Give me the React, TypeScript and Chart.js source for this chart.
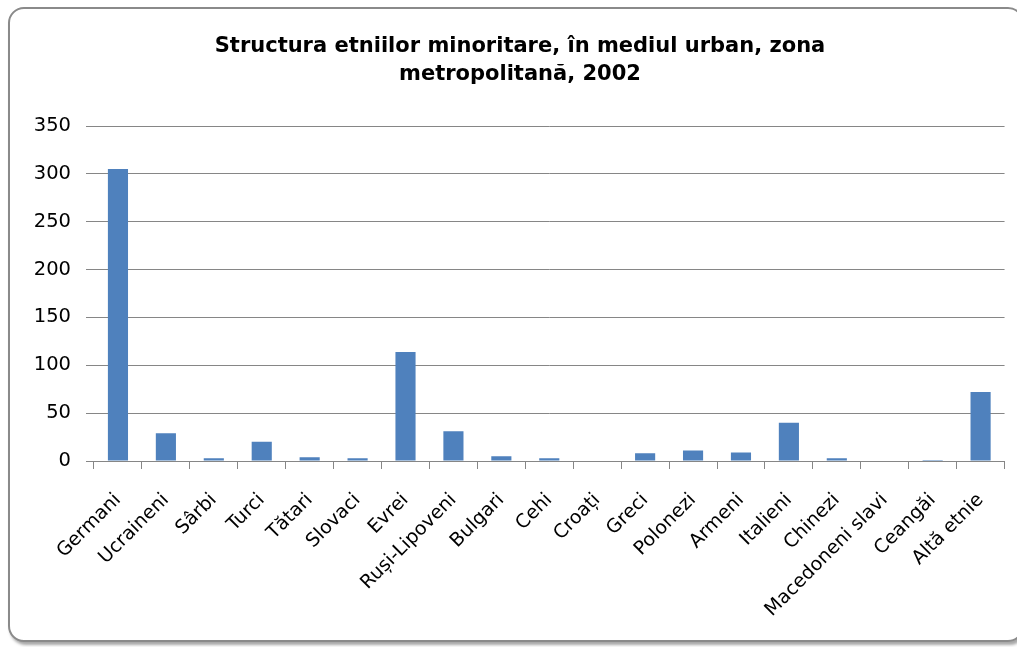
import React, { useEffect, useRef } from "react";
import { Chart, registerables } from "chart.js";

Chart.register(...registerables);

const categories: string[] = [
  "Germani", "Ucraineni", "Sârbi", "Turci", "Tătari", "Slovaci", "Evrei",
  "Ruși-Lipoveni", "Bulgari", "Cehi", "Croați", "Greci", "Polonezi", "Armeni",
  "Italieni", "Chinezi", "Macedoneni slavi", "Ceangăi", "Altă etnie",
];

const values: number[] = [
  305, 29, 3, 20, 4, 3, 114, 31, 5, 3, 0, 8, 11, 9, 40, 3, 0, 1, 72,
];

const yTicks: number[] = [0, 50, 100, 150, 200, 250, 300, 350];

const titleLines: string[] = [
  "Structura etniilor minoritare, în mediul urban, zona",
  "metropolitană, 2002",
];

const titleShift = {
  id: "titleShift",
  afterLayout(chart: any) {
    const t = chart.titleBlock;
    if (t) {
      t.left += 3;
      t.right += 3;
    }
  },
};

export default function App() {
  const ref = useRef<HTMLCanvasElement | null>(null);

  useEffect(() => {
    if (!ref.current) return;
    const chart = new Chart(ref.current, {
      type: "bar",
      data: {
        labels: categories,
        datasets: [
          {
            data: values,
            backgroundColor: "#4F81BD",
            borderWidth: 0,
            categoryPercentage: 1,
            barPercentage: 0.42,
          },
        ],
      },
      plugins: [titleShift],
      options: {
        responsive: false,
        animation: false,
        layout: { padding: { left: 28, right: 11, top: 10, bottom: 10 } },
        plugins: {
          legend: { display: false },
          tooltip: { enabled: false },
          title: {
            display: true,
            text: titleLines,
            color: "#000000",
            font: { family: "DejaVu Sans", size: 21, weight: "bold", lineHeight: 28 / 21 },
            padding: { top: 23, bottom: 37 },
          },
        },
        scales: {
          x: {
            grid: {
              display: true,
              drawOnChartArea: false,
              drawTicks: true,
              tickLength: 8,
              color: "#868686",
              lineWidth: 1,
              offset: true,
            },
            border: { display: true, color: "#868686", width: 1 },
            ticks: {
              autoSkip: false,
              maxRotation: 45,
              minRotation: 45,
              color: "#000000",
              padding: 20,
              font: { family: "DejaVu Sans", size: 19 },
            },
            afterFit: (s: any) => {
              s.height = 176;
            },
          },
          y: {
            min: 0,
            max: 350,
            afterBuildTicks: (s: any) => {
              s.ticks = yTicks.map((v) => ({ value: v }));
            },
            grid: {
              color: "#868686",
              lineWidth: 1,
              drawTicks: true,
              tickLength: 8,
            },
            border: { display: false },
            ticks: {
              color: "#000000",
              padding: 15,
              font: { family: "DejaVu Sans", size: 19.5 },
            },
            afterFit: (s: any) => {
              s.width = 66;
            },
          },
        },
      },
    });
    return () => chart.destroy();
  }, []);

  return (
    <div
      style={{
        position: "fixed",
        left: 0,
        top: 0,
        width: 1017,
        height: 647,
        overflow: "hidden",
        background: "#ffffff",
      }}
    >
      <div
        style={{
          position: "absolute",
          left: 8,
          top: 7,
          width: 1012,
          height: 631,
          border: "2px solid #8a8a8a",
          borderRadius: 16,
          boxShadow: "2px 3px 3px rgba(0,0,0,0.35)",
          background: "#ffffff",
        }}
      />
      <canvas
        ref={ref}
        width={1017}
        height={647}
        style={{ position: "absolute", left: 0, top: 0 }}
      />
    </div>
  );
}
